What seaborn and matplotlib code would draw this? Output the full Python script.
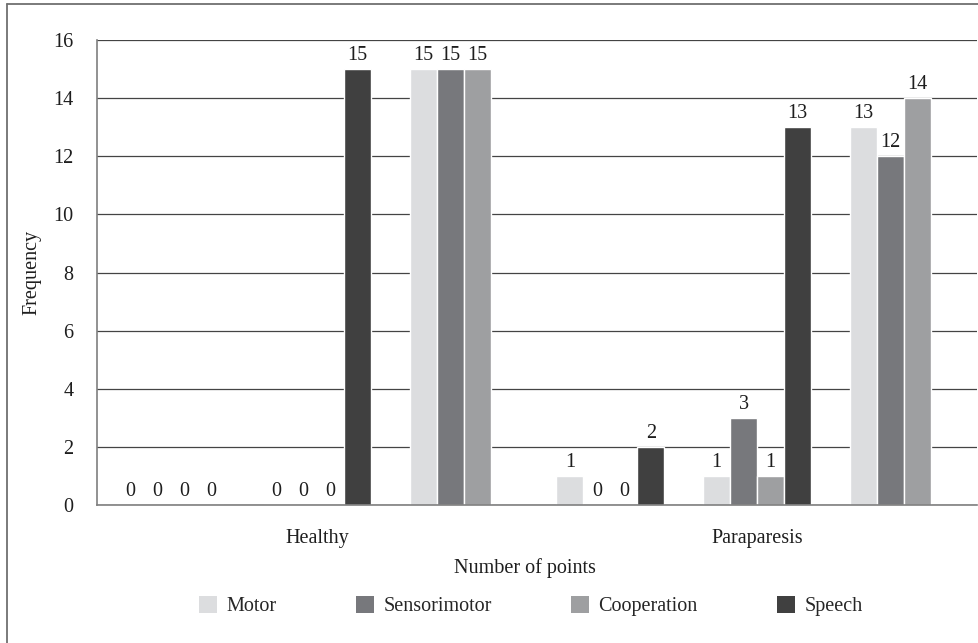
import numpy as np
import pandas as pd
import matplotlib
matplotlib.use("Agg")
import matplotlib.pyplot as plt
from matplotlib.patches import Patch
import seaborn as sns

# values: 3 point-levels for each condition
conditions = ["Healthy", "Paraparesis"]
points = [0, 1, 2]
scales = ["Motor", "Sensorimotor", "Cooperation", "Speech"]
motor = [0, 0, 15, 1, 1, 13]
sensorimotor = [0, 0, 15, 0, 3, 12]
cooperation = [0, 0, 15, 0, 1, 14]
speech = [0, 15, np.nan, 2, 13, np.nan]  # speech has only two levels

colors = ["#dcdddf", "#77787c", "#9e9fa1", "#404040"]

groups = [f"{c} {p}" for c in conditions for p in points]
rows = []
for name, vals in zip(scales, [motor, sensorimotor, cooperation, speech]):
    for g, v in zip(groups, vals):
        if not np.isnan(v):
            rows.append({"group": g, "scale": name, "freq": v})
df = pd.DataFrame(rows)

sns.set_style("white")
plt.rcParams["font.family"] = ["Liberation Serif", "DejaVu Serif"]
FS = 14.5

W, H = 979, 643
fig = plt.figure(figsize=(W / 100, H / 100), dpi=100)
ax = fig.add_axes([97 / W, 1 - 505 / H, 880 / W, 465 / H])

sns.barplot(data=df, x="group", y="freq", hue="scale", order=groups,
            hue_order=scales, palette=colors, saturation=1, width=0.735,
            errorbar=None, ax=ax, legend=False)

for cont in ax.containers:
    ax.bar_label(cont, fmt="%g", padding=3, fontsize=FS, color="#1e1e1e")

ax.set_xlim(-0.5, 5.5)
ax.set_ylim(0, 16)
ax.set_yticks(range(0, 17, 2))
ax.yaxis.grid(True, color="#444444", linewidth=0.9)
ax.set_axisbelow(True)
ax.set_xticks([1, 4])
ax.set_xticklabels(conditions)
ax.tick_params(axis="both", length=0, labelsize=FS, colors="#1e1e1e")
ax.tick_params(axis="y", pad=17)
ax.tick_params(axis="x", pad=17)
ax.set_xlabel("")
ax.set_ylabel("")
for s in ["top", "right"]:
    ax.spines[s].set_visible(False)
for s in ["left", "bottom"]:
    ax.spines[s].set_color("#7f7f7f")
    ax.spines[s].set_linewidth(1.2)

fig.text(32 / W, 1 - 272 / H, "Frequency", rotation=90, ha="center",
         va="center", fontsize=FS, color="#1e1e1e")
fig.text(525 / W, 1 - 568 / H, "Number of points", ha="center",
         va="center", fontsize=FS, color="#1e1e1e")

handles = [Patch(facecolor=c, edgecolor="none") for c in colors]
fig.legend(handles, scales, loc="center", bbox_to_anchor=(531 / W, 1 - 606 / H),
           ncol=4, frameon=False, fontsize=FS, handlelength=0.9,
           handleheight=0.9, handletextpad=0.45, columnspacing=3.95)

# outer chart border (cropped on right and bottom)
fig.add_artist(plt.Line2D([7 / W, 7 / W], [0, 1 - 4 / H], color="#707070",
                          linewidth=1.3, transform=fig.transFigure))
fig.add_artist(plt.Line2D([7 / W, 1], [1 - 4 / H, 1 - 4 / H], color="#707070",
                          linewidth=1.3, transform=fig.transFigure))

fig.savefig("out.png", dpi=100)
